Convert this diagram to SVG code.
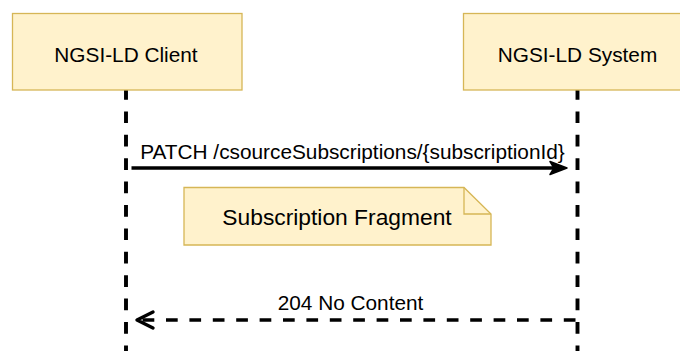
<svg xmlns="http://www.w3.org/2000/svg" width="680" height="351" viewBox="0 0 680 351">
<style>
.box{fill:#fff2cc;stroke:#d6b656;stroke-width:1.3}
.t{font-family:"Liberation Sans",Arial,sans-serif;font-size:20.8px;fill:#000;text-anchor:middle}
.life{stroke:#000;stroke-width:3.9;stroke-dasharray:11.7 11.7;fill:none}
.msg{stroke:#000;stroke-width:3.4;fill:none}
</style>
<rect width="680" height="351" fill="#fff"/>
<g id="connectors">
<line class="life" x1="126" y1="88" x2="126" y2="351"/>
<line class="life" x1="577.5" y1="88" x2="577.5" y2="351"/>
<line class="msg" x1="131.5" y1="168" x2="556" y2="168"/>
<polygon points="567,168 550,161.5 554,168 550,174.5" fill="#000" stroke="#000" stroke-width="1.5" stroke-linejoin="round"/>
<text class="t" x="352.5" y="158.5">PATCH /csourceSubscriptions/{subscriptionId}</text>
<line class="msg" x1="575.5" y1="320" x2="139" y2="320" stroke-dasharray="11.7 11.7"/>
<polyline class="msg" points="153,312 137,320 153,328" stroke-linecap="round" stroke-linejoin="round"/>
<text class="t" x="350.5" y="310">204 No Content</text>
</g>
<g id="client">
<rect class="box" x="12.5" y="13.5" width="229.5" height="76.5"/>
<text class="t" x="126" y="62">NGSI-LD Client</text>
</g>
<g id="system">
<rect class="box" x="463.5" y="13.5" width="229.5" height="76.5"/>
<text class="t" x="577.5" y="62">NGSI-LD System</text>
</g>
<g id="note">
<path class="box" d="M184,187.5 H464 L491,214 V245 H184 Z"/>
<path class="box" d="M464,187.5 V214 H491" fill="none" style="fill:none"/>
<text class="t" x="337" y="225" style="font-size:22.8px">Subscription Fragment</text>
</g>
</svg>
